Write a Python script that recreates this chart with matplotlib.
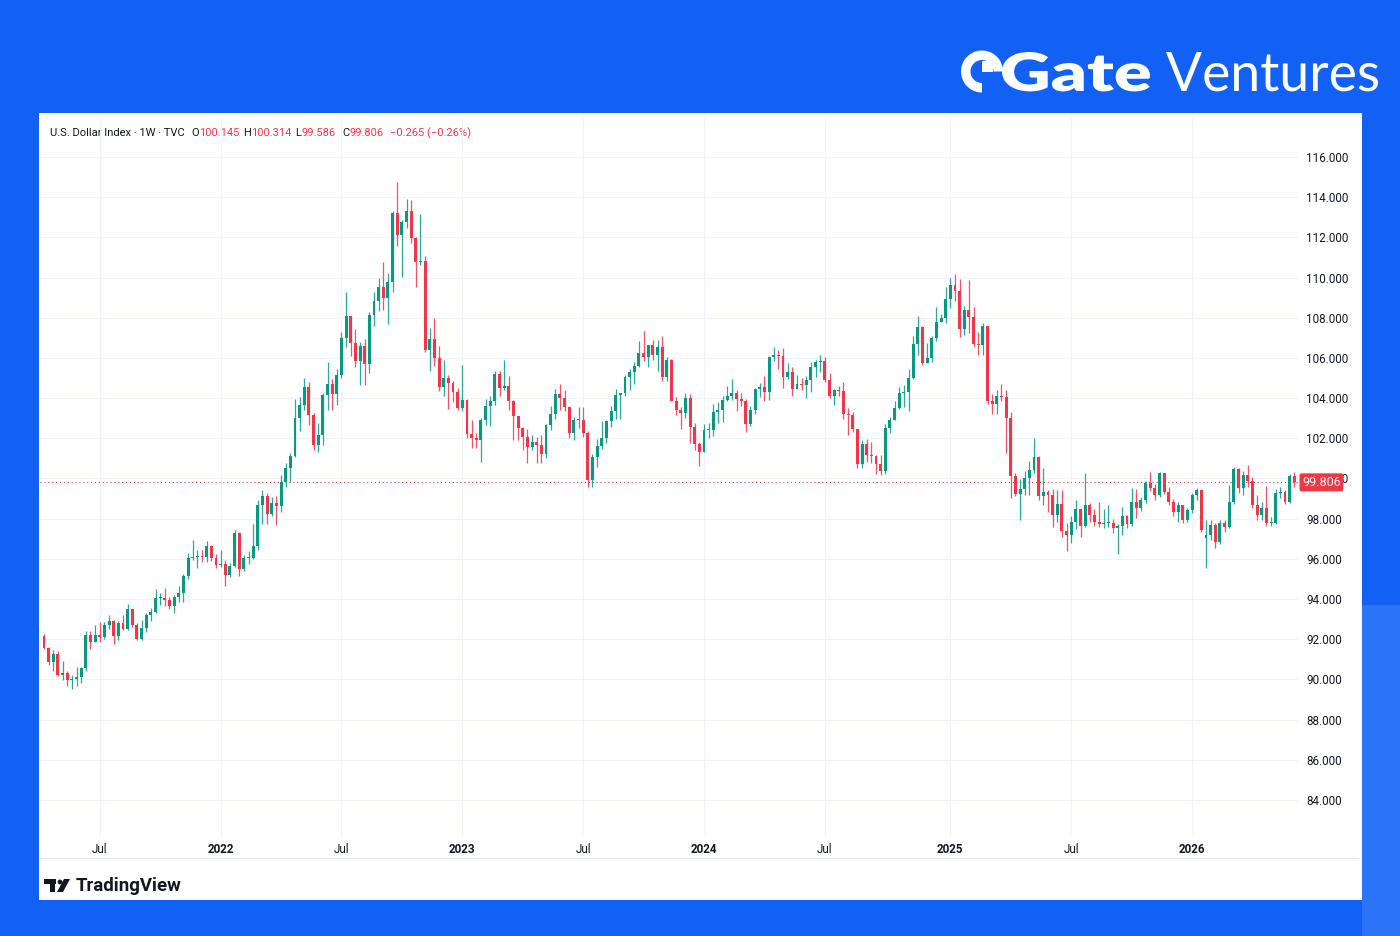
import numpy as np
import pandas as pd
import matplotlib
matplotlib.use("Agg")
import matplotlib.pyplot as plt
import matplotlib.dates as mdates
from matplotlib.patches import Rectangle, Wedge, Polygon, Circle, PathPatch
from matplotlib.textpath import TextPath
from matplotlib.font_manager import FontProperties
from matplotlib.transforms import blended_transform_factory, Affine2D

# ---- weekly DXY candles, first week starts 2021-04-12 ----
first_open = 92.16

close_2021 = [91.56, 90.85, 91.28, 90.22, 90.32, 89.99, 90.03, 90.13, 90.55, 92.23,
              91.85, 92.23, 92.12, 92.68, 92.90, 92.17, 92.80, 92.52, 93.50, 92.68,
              92.03, 92.58, 93.20, 93.33, 94.04, 94.07, 93.96, 93.64, 94.12, 94.32,
              95.13, 96.03, 96.08, 96.14, 96.08, 96.63, 96.04, 95.67]
high_2021 = [92.27, 91.60, 91.44, 91.43, 90.90, 90.40, 90.20, 90.62, 90.62, 92.41,
             92.40, 92.72, 92.83, 92.84, 93.19, 92.94, 92.88, 93.20, 93.73, 93.50,
             92.79, 92.93, 93.28, 93.53, 94.50, 94.28, 94.56, 94.09, 94.18, 94.63,
             95.26, 96.27, 96.94, 96.46, 96.45, 96.91, 96.69, 96.26]
low_2021 = [91.52, 90.73, 90.42, 90.19, 89.98, 89.65, 89.53, 89.66, 89.81, 90.42,
            91.51, 91.85, 91.87, 92.00, 92.53, 91.78, 91.94, 92.47, 92.48, 92.60,
            91.94, 91.98, 92.34, 92.88, 93.32, 93.72, 93.67, 93.50, 93.28, 93.87,
            93.87, 94.98, 95.93, 95.52, 95.86, 95.85, 95.90, 95.53]

close_2022 = [95.73, 95.17, 95.64, 97.26, 95.48, 96.04, 96.05, 96.62, 98.66, 99.13,
              98.23, 98.79, 98.62, 99.80, 100.50, 101.14, 103.00, 103.66, 104.56, 103.16,
              101.67, 102.15, 104.15, 104.71, 104.20, 105.14, 107.01, 108.07, 106.73, 105.85,
              106.61, 105.69, 108.16, 108.83, 109.55, 109.00, 109.76, 113.19, 112.12, 112.76,
              113.31, 111.98, 110.75, 110.80, 106.41, 106.92, 106.00, 104.55, 104.99, 104.73,
              104.31, 103.52]
high_2022 = [96.46, 95.95, 95.81, 97.44, 97.34, 96.17, 96.41, 97.74, 98.92, 99.42,
             99.29, 99.06, 99.13, 100.19, 100.76, 101.29, 103.93, 104.07, 105.01, 104.78,
             103.28, 102.74, 104.24, 105.79, 104.95, 105.43, 107.27, 109.29, 108.10, 107.43,
             106.81, 106.93, 108.26, 109.29, 109.98, 110.79, 110.22, 113.33, 114.78, 112.87,
             113.92, 113.88, 112.02, 113.15, 111.08, 107.51, 107.99, 106.58, 105.90, 105.17,
             104.87, 104.51]
low_2022 = [95.61, 94.63, 95.11, 95.61, 95.14, 95.37, 95.72, 95.98, 96.46, 97.71,
            97.72, 98.13, 97.69, 98.31, 99.57, 99.82, 101.07, 102.35, 103.43, 102.65,
            101.43, 101.30, 101.64, 103.41, 103.41, 103.67, 104.98, 106.52, 106.11, 105.54,
            104.64, 104.64, 105.27, 107.58, 108.31, 108.36, 107.68, 109.27, 111.55, 110.05,
            112.49, 111.72, 109.54, 110.63, 106.28, 105.34, 105.62, 104.37, 104.12, 103.45,
            103.78, 103.40]

close_2023 = [103.89, 102.20, 102.00, 101.92, 102.92, 103.63, 103.86, 105.21, 104.52, 104.58,
              103.87, 103.12, 102.51, 102.08, 101.55, 101.82, 101.66, 101.21, 102.68, 103.20,
              104.21, 104.02, 103.55, 102.24, 102.89, 102.91, 102.27, 99.91, 101.07, 101.62,
              102.02, 102.84, 103.38, 104.14, 104.24, 105.07, 105.32, 105.58, 106.22, 106.04,
              106.64, 106.16, 106.56, 105.03, 105.91, 103.87, 103.40, 103.27, 103.99, 102.57,
              101.72, 101.33]
high_2023 = [105.63, 103.95, 102.90, 102.25, 103.01, 103.96, 104.11, 105.36, 105.36, 105.88,
             105.11, 103.90, 103.11, 102.56, 102.44, 102.17, 102.04, 102.18, 102.73, 103.63,
             104.44, 104.70, 104.40, 103.62, 103.04, 103.54, 103.57, 102.35, 101.23, 101.98,
             102.84, 102.91, 103.59, 104.44, 104.26, 105.16, 105.43, 105.78, 106.84, 107.35,
             106.66, 106.89, 106.89, 107.11, 106.02, 105.94, 104.06, 103.55, 104.26, 104.20,
             102.76, 101.83]
low_2023 = [103.34, 101.99, 101.53, 101.50, 100.82, 102.64, 102.60, 103.67, 104.10, 104.38,
            103.43, 101.92, 101.93, 101.43, 100.79, 101.42, 100.77, 100.79, 101.01, 102.40,
            102.97, 103.39, 103.37, 102.00, 101.92, 102.49, 102.05, 99.58, 99.57, 100.55,
            101.47, 101.74, 102.58, 102.94, 102.97, 104.09, 104.41, 104.68, 105.57, 105.85,
            105.53, 105.88, 105.35, 104.84, 104.85, 103.86, 103.17, 102.46, 103.00, 101.77,
            101.42, 100.62]

close_2024 = [102.41, 102.41, 103.29, 103.43, 103.92, 104.11, 104.27, 103.95, 103.86, 102.71,
              103.43, 104.43, 104.55, 104.30, 106.04, 106.15, 106.09, 105.03, 105.31, 104.45,
              104.72, 104.67, 104.89, 105.55, 105.80, 105.87, 104.89, 104.09, 104.40, 104.33,
              103.21, 103.14, 102.45, 100.72, 101.70, 101.18, 101.11, 100.72, 100.38, 102.52,
              102.90, 103.49, 104.26, 104.28, 104.99, 106.69, 107.55, 105.74, 105.98, 106.99,
              107.81, 108.00, 108.95]
high_2024 = [102.73, 102.75, 103.69, 103.82, 104.10, 104.60, 104.97, 104.38, 104.25, 103.93,
             103.63, 104.49, 104.73, 105.10, 106.11, 106.52, 106.37, 106.49, 105.74, 105.55,
             105.14, 105.01, 105.10, 105.80, 105.91, 106.13, 106.03, 105.26, 104.47, 104.60,
             104.82, 103.50, 103.29, 102.46, 101.89, 101.97, 101.80, 101.15, 101.18, 102.69,
             103.07, 103.87, 104.57, 104.63, 105.44, 107.07, 108.07, 107.60, 106.73, 107.08,
             108.54, 108.17, 109.54]
low_2024 = [101.33, 101.99, 102.13, 102.77, 102.79, 103.85, 103.92, 103.36, 103.61, 102.33,
            102.59, 103.20, 104.03, 103.87, 103.88, 105.85, 105.46, 104.52, 104.97, 104.08,
            104.44, 104.39, 103.99, 104.30, 105.05, 105.32, 104.82, 103.98, 103.65, 104.08,
            102.96, 102.16, 102.30, 100.53, 100.51, 100.84, 100.79, 100.22, 100.16, 100.21,
            102.25, 102.89, 103.48, 103.57, 103.37, 104.94, 106.13, 105.63, 105.73, 105.80,
            106.85, 107.77, 107.75]

close_2025 = [109.65, 109.35, 107.44, 108.37, 108.04, 106.71, 106.63, 107.61, 103.84, 103.72,
              104.09, 104.04, 103.02, 100.10, 99.23, 99.47, 100.03, 100.42, 101.09, 99.11,
              99.33, 99.19, 98.18, 98.71, 97.40, 97.17, 97.85, 98.48, 97.64, 98.70,
              98.18, 97.85, 97.72, 97.77, 97.77, 97.55, 97.65, 98.15, 97.72, 98.85,
              98.51, 98.93, 99.76, 99.50, 99.17, 100.25, 99.34, 98.84, 98.35, 98.68,
              97.93, 98.43]
high_2025 = [109.96, 110.18, 109.91, 108.59, 109.88, 108.52, 107.29, 107.72, 107.61, 104.19,
             104.41, 104.68, 104.40, 103.31, 100.27, 99.95, 100.38, 100.86, 102.00, 101.14,
             100.54, 99.44, 99.46, 99.42, 99.42, 97.76, 98.13, 98.95, 98.55, 100.26,
             98.79, 98.50, 98.84, 98.48, 98.68, 97.96, 97.74, 98.60, 98.20, 99.54,
             99.45, 99.10, 99.85, 100.30, 99.70, 100.34, 100.25, 99.55, 99.00, 98.85,
             98.70, 98.55]
low_2025 = [108.48, 108.83, 107.03, 107.12, 107.26, 106.56, 106.12, 106.12, 103.70, 103.20,
            103.19, 103.85, 101.26, 99.01, 99.15, 97.92, 99.17, 99.20, 100.28, 98.91,
            98.69, 98.35, 97.60, 97.82, 97.07, 96.37, 96.80, 97.46, 97.11, 97.58,
            97.85, 97.63, 97.56, 97.54, 97.60, 97.29, 96.22, 97.20, 97.53, 97.64,
            98.05, 98.40, 98.80, 99.35, 98.95, 99.10, 99.25, 98.70, 98.15, 97.85,
            97.80, 97.85]

close_2026 = [99.17, 99.40, 97.43, 97.19, 97.68, 96.85, 97.76, 97.60, 98.84, 100.45,
              99.50, 100.17, 99.85, 98.68, 98.18, 98.51, 97.76, 97.80, 99.26, 99.34,
              98.84, 100.145, 99.806]
high_2026 = [99.30, 99.50, 99.45, 97.92, 97.92, 97.80, 97.95, 97.93, 99.67, 100.55,
             100.50, 100.35, 100.67, 100.05, 99.20, 98.85, 99.60, 98.10, 99.45, 99.55,
             99.40, 100.20, 100.314]
low_2026 = [98.30, 98.95, 97.35, 95.53, 96.95, 96.52, 96.75, 97.35, 97.55, 98.75,
            99.30, 99.20, 99.55, 98.55, 97.95, 97.95, 97.65, 97.65, 97.75, 99.05,
            98.75, 98.80, 99.586]

# weeks where the open gapped away from the prior close
gap_opens = {250: 97.02}

price_ticks = np.arange(84, 117, 2)
# time labels sit on the first weekly bar of each month
tick_dates = ['2021-07-05', '2022-01-03', '2022-07-04', '2023-01-02', '2023-07-03',
              '2024-01-01', '2024-07-01', '2025-01-06', '2025-07-07', '2026-01-05']
tick_names = ['Jul', '2022', 'Jul', '2023', 'Jul', '2024', 'Jul', '2025', 'Jul', '2026']

last_price = 99.806

# ---- assemble ----
c = np.array(close_2021 + close_2022 + close_2023 + close_2024 + close_2025 + close_2026)
h = np.array(high_2021 + high_2022 + high_2023 + high_2024 + high_2025 + high_2026)
l = np.array(low_2021 + low_2022 + low_2023 + low_2024 + low_2025 + low_2026)
o = np.r_[first_open, c[:-1]]
for k, v in gap_opens.items():
    o[k] = v
h = np.maximum(h, np.maximum(o, c))
l = np.minimum(l, np.minimum(o, c))
dates = pd.date_range('2021-04-12', periods=len(c), freq='7D')
x = mdates.date2num(dates)

W, H = 1400, 936
GREEN = '#089981'
RED = '#F23645'
TXT = '#131722'
BLUE = '#1360F5'

fig = plt.figure(figsize=(W / 100, H / 100), dpi=100)
fig.patch.set_facecolor(BLUE)

# background layer in pixel coords (y down)
bg = fig.add_axes([0, 0, 1, 1], zorder=0)
bg.set_xlim(0, W)
bg.set_ylim(H, 0)
bg.axis('off')
bg.add_patch(Rectangle((0, 0), W, H, facecolor=BLUE, edgecolor='none'))
bg.add_patch(Rectangle((1362, 605), 38, 331, facecolor='#2B74F7', edgecolor='none'))
bg.add_patch(Rectangle((39, 113), 1323, 787, facecolor='white', edgecolor='none'))
bg.plot([40, 1358], [858, 858], color='#e6e9ef', lw=0.8)


def logo_word(s, x_left, x_right, y_top, y_base, weight):
    tp = TextPath((0, 0), s, size=1, prop=FontProperties(family='Lato', weight=weight))
    ext = tp.get_extents()
    sx = (x_right - x_left) / ext.width
    sy = (y_base - y_top) / ext.ymax
    t = Affine2D().translate(-ext.xmin, 0).scale(sx, -sy).translate(x_left, y_base)
    bg.add_patch(PathPatch(t.transform_path(tp), facecolor='white', edgecolor='none'))


# Gate Ventures logo
bg.add_patch(Wedge((982, 71.5), 21, 90, 360, width=9.5, facecolor='white', edgecolor='none'))
bg.add_patch(Rectangle((982, 61), 10.5, 10.5, facecolor='white', edgecolor='none'))
logo_word('Gate', 1002, 1150, 52, 91, 'heavy')
logo_word('Ventures', 1166, 1378, 52, 91, 'normal')

# header line
hdr_font = dict(fontsize=8.0, family='Roboto', va='center', ha='left')
bg.text(50, 133, 'U.S. Dollar Index · 1W · TVC', color=TXT, **hdr_font)
for xp, s, col in [(191, 'O', TXT), (199, '100.145', RED), (243, 'H', TXT), (251, '100.314', RED),
                   (295, 'L', TXT), (302, '99.586', RED), (342, 'C', TXT), (350, '99.806', RED),
                   (390, '\u22120.265 (\u22120.26%)', RED)]:
    bg.text(xp, 133, s, color=col, **hdr_font)

# TradingView footer
bg.add_patch(Rectangle((44, 879), 12, 4.5, facecolor=TXT, edgecolor='none'))
bg.add_patch(Rectangle((50, 879), 5, 13, facecolor=TXT, edgecolor='none'))
bg.add_patch(Circle((60, 882), 2.4, facecolor=TXT, edgecolor='none'))
bg.add_patch(Polygon([(64, 879), (70, 879), (63, 892), (57, 892)], closed=True,
                     facecolor=TXT, edgecolor='none'))
bg.text(76, 886, 'TradingView', color=TXT, fontsize=13.4, fontweight='bold',
        family='Roboto', va='center', ha='left')

# ---- chart axes ----
ax_left, ax_right, ax_top, ax_bot = 40, 1298, 118, 836
ax = fig.add_axes([ax_left / W, 1 - ax_bot / H, (ax_right - ax_left) / W, (ax_bot - ax_top) / H],
                  zorder=1)
ax.patch.set_alpha(0)

px_per_unit = 20.09
ax.set_ylim(116 - (ax_bot - 157) / px_per_unit, 116 + (157 - ax_top) / px_per_unit)
day_px = 4.648 / 7
x0 = mdates.date2num(pd.Timestamp('2021-04-12')) - (44 - ax_left) / day_px
ax.set_xlim(x0, x0 + (ax_right - ax_left) / day_px)

colors = np.where(c >= o, GREEN, RED)
ax.vlines(x, l, h, colors=colors, lw=0.9, alpha=0.85, zorder=3)
body = np.maximum(np.abs(c - o), 0.05)
ax.bar(x, body, bottom=np.minimum(o, c), width=4.4, color=colors, linewidth=0, zorder=4)

ax.axhline(last_price, color=RED, lw=0.8, linestyle=(0, (1, 2.5)), zorder=2)

ax.set_yticks(price_ticks)
ax.set_yticklabels([f'{v:.3f}' for v in price_ticks])
ax.yaxis.tick_right()
ax.tick_params(axis='y', length=0, pad=6, labelsize=8.4, labelcolor=TXT)
ax.set_xticks(mdates.date2num(pd.to_datetime(tick_dates)))
ax.set_xticklabels(tick_names)
ax.tick_params(axis='x', length=0, pad=5, labelsize=8.4, labelcolor=TXT)
for lab in ax.get_xticklabels() + ax.get_yticklabels():
    lab.set_family('Roboto')
for lab in ax.get_xticklabels():
    if lab.get_text() != 'Jul':
        lab.set_fontweight('bold')

ax.grid(True, color='#f0f3fa', lw=0.8, zorder=0)
ax.set_axisbelow(True)
for sp in ax.spines.values():
    sp.set_visible(False)

# last price badge (covers the 100.000 label, as on the chart)
tr = blended_transform_factory(ax.transAxes, ax.transData)
ax.text(1 + 4 / (ax_right - ax_left), last_price, f'{last_price:.3f}', transform=tr,
        color='white', fontsize=9, family='Roboto', va='center', ha='left', zorder=10,
        clip_on=False,
        bbox=dict(boxstyle='round,pad=0.2,rounding_size=0.15', facecolor=RED, edgecolor='none'))

fig.savefig('out.png', dpi=100, facecolor=fig.get_facecolor())
